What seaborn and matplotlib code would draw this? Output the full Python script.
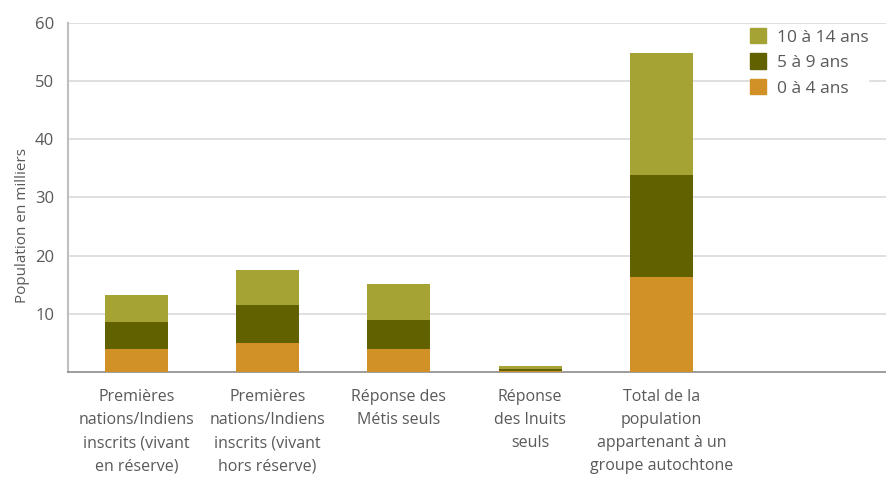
import numpy as np
import pandas as pd
import matplotlib
matplotlib.use("Agg")
import matplotlib.pyplot as plt
import seaborn as sns
from matplotlib.patches import Patch

# =========================
# Data (population en milliers)
# =========================
categories = [
    "Premières\nnations/Indiens\ninscrits (vivant\nen réserve)",
    "Premières\nnations/Indiens\ninscrits (vivant\nhors réserve)",
    "Réponse des\nMétis seuls",
    "Réponse\ndes Inuits\nseuls",
    "Total de la\npopulation\nappartenant à un\ngroupe autochtone",
]
age_0_4 = [4.0, 5.0, 4.0, 0.2, 16.3]
age_5_9 = [4.6, 6.5, 4.9, 0.3, 17.5]
age_10_14 = [4.6, 6.0, 6.2, 0.5, 21.0]

series_names = ["0 à 4 ans", "5 à 9 ans", "10 à 14 ans"]
colors = ["#D29127", "#616100", "#A6A335"]

# =========================
# Plot
# =========================
sns.set_style("white")
plt.rcParams['font.family'] = ['Open Sans', 'DejaVu Sans']
text_color = "#595959"

fig = plt.figure(figsize=(8.87, 4.84), dpi=100)
ax = fig.add_axes([0.0767, 0.2314, 0.9233, 0.7211])

df = pd.DataFrame({"cat": categories, "a": age_0_4, "b": age_5_9, "c": age_10_14})
bottom = np.zeros(len(categories))
for col, name, color in zip(["a", "b", "c"], series_names, colors):
    sns.barplot(data=df, x="cat", y=col, bottom=bottom, color=color,
                width=0.48, saturation=1, linewidth=0, ax=ax, zorder=3)
    bottom = bottom + df[col].values

ax.set_ylim(0, 60)
ax.set_xlim(-0.52, 5.72)
ax.set_yticks([10, 20, 30, 40, 50, 60])
ax.yaxis.grid(True, color="#D9D9D9", linewidth=1.2, zorder=0)
ax.set_axisbelow(True)

for s in ["top", "right"]:
    ax.spines[s].set_visible(False)
ax.spines["left"].set_color("#BFBFBF")
ax.spines["left"].set_linewidth(1.5)
ax.spines["bottom"].set_color("#8C8C8C")
ax.spines["bottom"].set_linewidth(1.2)

ax.tick_params(axis="y", length=0, colors=text_color, labelsize=12, pad=10)
ax.tick_params(axis="x", length=0, colors=text_color, labelsize=11.5, pad=12)
ax.set_xlabel("")
ax.set_ylabel("Population en milliers", color=text_color, fontsize=11)
ax.yaxis.set_label_coords(-0.047, 0.42)
for lab in ax.get_xticklabels():
    lab.set_linespacing(1.6)

handles = [Patch(color=c, label=n) for n, c in zip(series_names, colors)][::-1]
leg = ax.legend(handles=handles, loc="upper right", bbox_to_anchor=(0.977, 0.986),
                frameon=True, fontsize=12.5, handlelength=0.95, handleheight=1.0,
                handletextpad=0.6, labelspacing=0.45, borderpad=0.0, borderaxespad=0)
leg.get_frame().set_edgecolor("white")
leg.get_frame().set_alpha(1)
for t in leg.get_texts():
    t.set_color(text_color)

plt.savefig("out.png", dpi=100)
